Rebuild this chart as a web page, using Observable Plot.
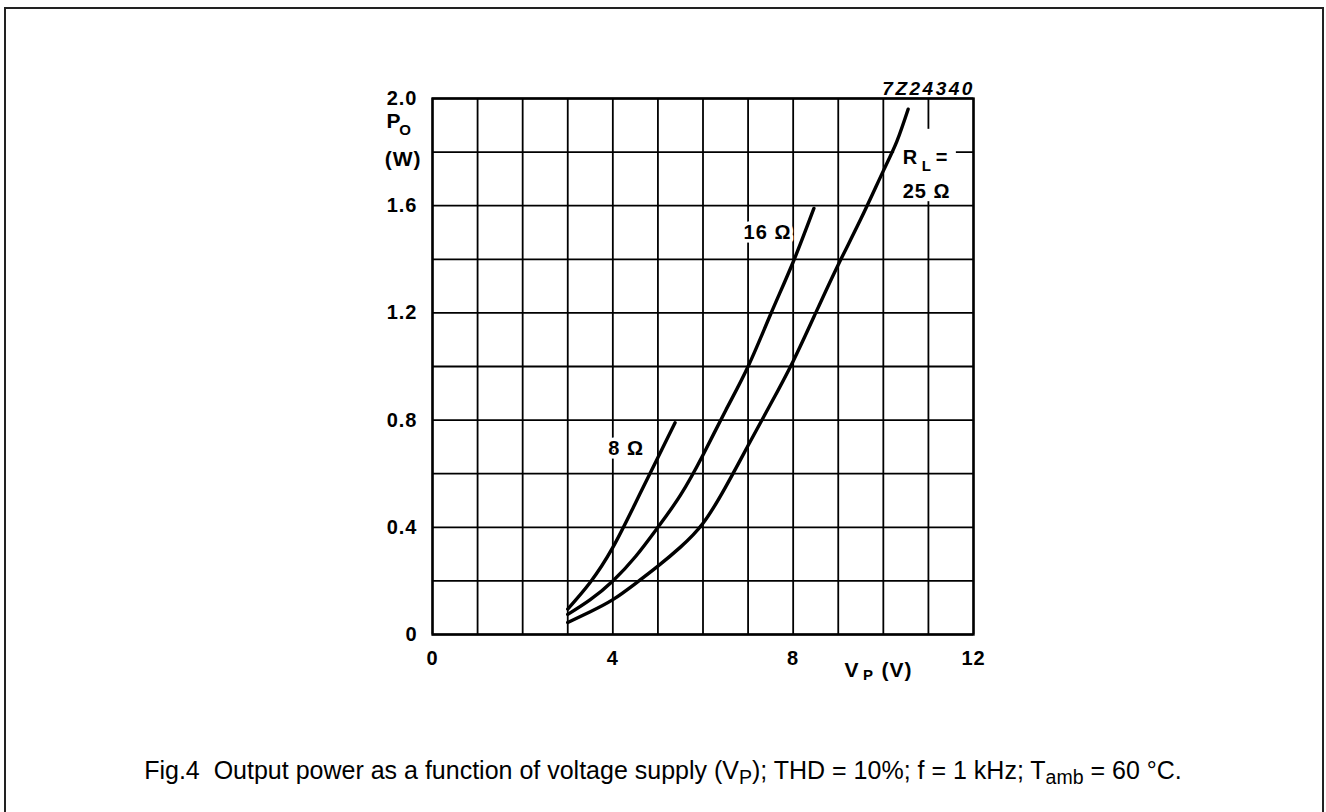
<!DOCTYPE html>
<html><head><meta charset="utf-8">
<script src="https://cdn.jsdelivr.net/npm/d3@7"></script>
<script src="https://cdn.jsdelivr.net/npm/@observablehq/plot@0.6"></script>
<style>
html,body{margin:0;padding:0;background:#fff;overflow:hidden;}
#wrap{position:relative;width:1326px;height:812px;overflow:hidden;}
#box{position:absolute;left:4px;top:7px;width:1320px;height:830px;border:2px solid #222;box-sizing:border-box;}
#chart{position:absolute;left:0;top:0;}
#caption{position:absolute;left:0;width:1326px;top:758px;line-height:25px;text-align:center;font-family:"Liberation Sans",Arial,sans-serif;font-size:25px;color:#000;white-space:nowrap;}
#caption sub{font-size:0.78em;vertical-align:-0.25em;line-height:0;}
</style></head>
<body><div id="wrap"><div id="box"></div><div id="chart"></div>
<div id="caption">Fig.4&nbsp;&nbsp;Output power as a function of voltage supply (V<sub>P</sub>); THD = 10%; f = 1 kHz; T<sub>amb</sub> = 60 °C.</div></div>
<script>
// Supply voltage V_P (V) and output power P_o (W) for each load
const vp8  = [3.0, 3.5, 4.0, 4.5, 5.0, 5.38];
const po8  = [0.095, 0.195, 0.325, 0.49, 0.66, 0.79];
const vp16 = [3.0, 3.5, 4.0, 4.5, 5.0, 5.5, 6.0, 6.5, 7.0, 7.5, 8.0, 8.46];
const po16 = [0.075, 0.13, 0.20, 0.29, 0.40, 0.52, 0.67, 0.835, 1.00, 1.195, 1.39, 1.59];
const vp25 = [3.0, 3.5, 4.0, 4.5, 5.0, 5.5, 6.0, 6.5, 7.0, 7.5, 8.0, 8.5, 9.0, 9.5, 10.0, 10.3, 10.55];
const po25 = [0.045, 0.085, 0.13, 0.19, 0.255, 0.326, 0.415, 0.55, 0.705, 0.86, 1.02, 1.20, 1.38, 1.55, 1.73, 1.84, 1.96];

const xTicks = [0, 4, 8, 12];
const xTickLabels = ["0", "4", "8", "12"];
const yTicks = [0, 0.4, 0.8, 1.2, 1.6, 2.0];
const yTickLabels = ["0", "0.4", "0.8", "1.2", "1.6", "2.0"];
const xGrid = d3.range(0, 13, 1);
const yGrid = d3.range(0, 11).map(i => i * 0.2);

// annotation texts (positions in data units)
const outsideLabels = [
  {x: -1.02, y: 1.89, t: "P"},
  {x: -1.06, y: 1.75, t: "(W)"},
  {x: 9.14, y: -0.157, t: "V"},
  {x: 9.96, y: -0.157, t: "(V)"}
];
const curveLabels = [
  {x: 10.43, y: 1.757, t: "R"},
  {x: 11.16, y: 1.757, t: "="},
  {x: 10.43, y: 1.627, t: "25 Ω"},
  {x: 6.90, y: 1.474, t: "16 Ω"},
  {x: 3.90, y: 0.668, t: "8 Ω"}
];
const subLabels = [
  {x: -0.74, y: 1.865, t: "O"},
  {x: 10.85, y: 1.731, t: "L"},
  {x: 9.55, y: -0.170, t: "P"}
];
const codeLabel = [{x: 12.03, y: 2.012, t: "7Z24340"}];
const labelMask = [{x1: 10.25, x2: 11.62, y1: 1.615, y2: 1.885}];

const series = [
  ...vp8.map((v, i) => ({v, p: po8[i], r: "8"})),
  ...vp16.map((v, i) => ({v, p: po16[i], r: "16"})),
  ...vp25.map((v, i) => ({v, p: po25[i], r: "25"}))
];

const W = 1326, H = 700;
const chart = Plot.plot({
  width: W, height: H,
  marginLeft: 432, marginRight: W - 973, marginTop: 98, marginBottom: H - 634,
  x: {domain: [0, 12], label: null},
  y: {domain: [0, 2], label: null},
  style: {fontFamily: "'Liberation Sans', Arial, sans-serif", fontSize: "20px", fontWeight: "bold", color: "#000", background: "transparent", letterSpacing: "1px"},
  marks: [
    Plot.ruleX(xGrid, {stroke: "#000", strokeWidth: 1.8}),
    Plot.ruleY(yGrid, {stroke: "#000", strokeWidth: 1.8}),
    Plot.frame({stroke: "#000", strokeWidth: 2.4}),
    Plot.rect(labelMask, {x1: "x1", x2: "x2", y1: "y1", y2: "y2", fill: "#fff"}),
    Plot.axisX({ticks: xTicks, tickSize: 0, tickPadding: 16, tickFormat: d => xTickLabels[xTicks.indexOf(d)], fontSize: 20, fontWeight: "bold", label: null}),
    Plot.axisY({ticks: yTicks, tickSize: 0, tickPadding: 15, tickFormat: d => yTickLabels[yTicks.findIndex(t => Math.abs(t - d) < 1e-9)], fontSize: 20, fontWeight: "bold", label: null}),
    Plot.text(curveLabels, {x: "x", y: "y", text: "t", textAnchor: "start", lineAnchor: "bottom", fontSize: 20, fontWeight: "bold", stroke: "#fff", strokeWidth: 7, paintOrder: "stroke", fill: "#000"}),
    Plot.text(outsideLabels, {x: "x", y: "y", text: "t", textAnchor: "start", lineAnchor: "bottom", fontSize: 21, fontWeight: "bold"}),
    Plot.text(subLabels, {x: "x", y: "y", text: "t", textAnchor: "start", lineAnchor: "bottom", fontSize: 15, fontWeight: "bold"}),
    Plot.text(codeLabel, {x: "x", y: "y", text: "t", textAnchor: "end", lineAnchor: "bottom", fontSize: 19, fontWeight: "bold", fontStyle: "italic"}),
    Plot.line(series, {x: "v", y: "p", z: "r", stroke: "#000", strokeWidth: 3.4, curve: "natural"})
  ]
});
chart.querySelectorAll("text").forEach(t => { if (t.textContent === "7Z24340") t.style.letterSpacing = "2.5px"; });
document.getElementById("chart").appendChild(chart);
</script></body></html>
